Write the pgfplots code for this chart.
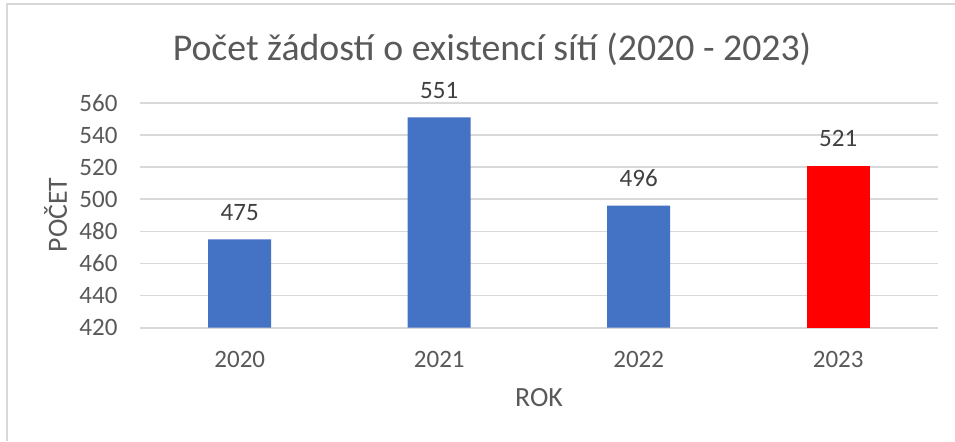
\documentclass[border=0pt]{standalone}
\usepackage{pgfplots}
\pgfplotsset{compat=1.18}
\usepackage{fontspec}
\setmainfont{Carlito}
\definecolor{barblue}{HTML}{4472C4}
\definecolor{barred}{HTML}{FF0000}
\definecolor{txtgray}{HTML}{595959}
\definecolor{lblgray}{HTML}{404040}
\definecolor{gridgray}{HTML}{D9D9D9}
\begin{document}
\begin{tikzpicture}
\useasboundingbox (0,0) rectangle (343.8pt,-158.76pt);
\fill[white] (0,0) rectangle (343.8pt,-158.76pt);
\draw[gridgray, line width=0.5pt] (2.52pt,-158.76pt) -- (2.52pt,-1.44pt) -- (343.8pt,-1.44pt);
\begin{axis}[
  at={(50.4pt,-117.97pt)}, anchor=south west,
  scale only axis, width=287.28pt, height=80.89pt,
  xmin=-0.5, xmax=3.5, ymin=420, ymax=560,
  ytick={420,440,...,560},
  xtick={0,1,2,3}, xticklabels={2020,2021,2022,2023},
  axis line style={draw=none},
  major tick length=0pt,
  ymajorgrids, grid style={gridgray, line width=0.6pt},
  ybar, bar width=22.68pt, bar shift=0pt,
  clip=false,
  /pgf/number format/assume math mode=true,
  /pgf/number format/1000 sep={},
  tick label style={font=\fontsize{9pt}{11pt}\selectfont, text=txtgray, inner sep=0pt},
  yticklabel style={anchor=east, xshift=-7.92pt},
  xticklabel style={anchor=north, yshift=-8.28pt},
  nodes near coords,
  every node near coord/.append style={font=\fontsize{9pt}{11pt}\selectfont, text=lblgray, anchor=south, inner sep=0pt, yshift=6.48pt},
]
\addplot[fill=barblue, draw=none] coordinates {(0,475) (1,551) (2,496)};
\addplot[fill=barred, draw=none] coordinates {(3,521)};
\end{axis}
\node[anchor=base, text=txtgray, font=\fontsize{13.6pt}{16pt}\selectfont, inner sep=0pt] at (177.12pt,-21.6pt) {Počet žádostí o existencí sítí (2020 - 2023)};
\node[anchor=base, text=txtgray, font=\fontsize{10pt}{12pt}\selectfont, inner sep=0pt] at (194.04pt,-146.16pt) {ROK};
\node[anchor=base, rotate=90, text=txtgray, font=\fontsize{10pt}{12pt}\selectfont, inner sep=0pt] at (24.12pt,-77.4pt) {POČET};
\end{tikzpicture}
\end{document}
